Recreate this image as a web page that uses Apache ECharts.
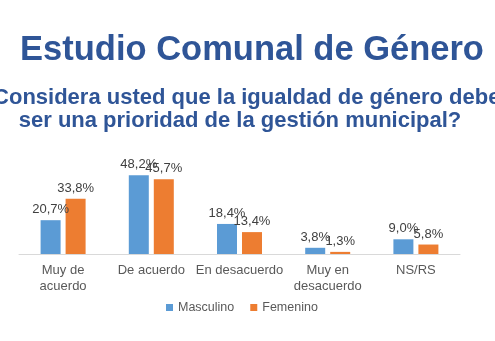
<!DOCTYPE html>
<html><head><meta charset="utf-8">
<script src="https://cdn.jsdelivr.net/npm/echarts@6/dist/echarts.min.js"></script>
<style>html,body{margin:0;padding:0;background:#fff}#c{width:495px;height:341px}</style>
</head><body><div id="c"></div>
<script>
const categories = ['Muy de\nacuerdo', 'De acuerdo', 'En desacuerdo', 'Muy en\ndesacuerdo', 'NS/RS'];
const masculino = [20.7, 48.2, 18.4, 3.8, 9.0];
const femenino = [33.8, 45.7, 13.4, 1.3, 5.8];
const seriesNames = ['Masculino', 'Femenino'];

const chart = echarts.init(document.getElementById('c'), null, {renderer: 'canvas'});
const fmt = p => p.value.toFixed(1).replace('.', ',') + '%';
const labelStyle = {show: true, position: 'top', distance: 4, formatter: fmt, color: '#404040', fontSize: 13, fontFamily: 'Arial'};
chart.setOption({
  animation: false,
  title: [
    {text: 'Estudio Comunal de Género', left: 247, textAlign: 'center', top: 28,
     textStyle: {fontFamily: 'Arial', fontSize: 34.5, fontWeight: 'bold', color: '#2F5597'}},
    {text: '¿Considera usted que la igualdad de género debe\nser una prioridad de la gestión municipal?', left: 235, textAlign: 'center', top: 81,
     textStyle: {fontFamily: 'Arial', fontSize: 22, fontWeight: 'bold', color: '#2F5597', lineHeight: 23, align: 'center'}}
  ],
  legend: {
    data: seriesNames, bottom: 22, left: 161, icon: 'rect', itemWidth: 7, itemHeight: 7, itemGap: 16,
    textStyle: {fontFamily: 'Arial', fontSize: 12.5, color: '#595959'}
  },
  grid: {left: 19, right: 35, top: 156, bottom: 87},
  xAxis: {
    type: 'category', data: categories,
    axisLine: {lineStyle: {color: '#D9D9D9'}}, axisTick: {show: false},
    axisLabel: {fontFamily: 'Arial', fontSize: 13, color: '#595959', lineHeight: 16, margin: 8, interval: 0}
  },
  yAxis: {type: 'value', min: 0, max: 60, show: false, splitLine: {show: false}},
  series: [
    {name: seriesNames[0], type: 'bar', data: masculino, barWidth: 20, barGap: '25%', itemStyle: {color: '#5B9BD5'}, label: labelStyle},
    {name: seriesNames[1], type: 'bar', data: femenino, barWidth: 20, itemStyle: {color: '#ED7D31'}, label: labelStyle}
  ]
});
</script></body></html>
